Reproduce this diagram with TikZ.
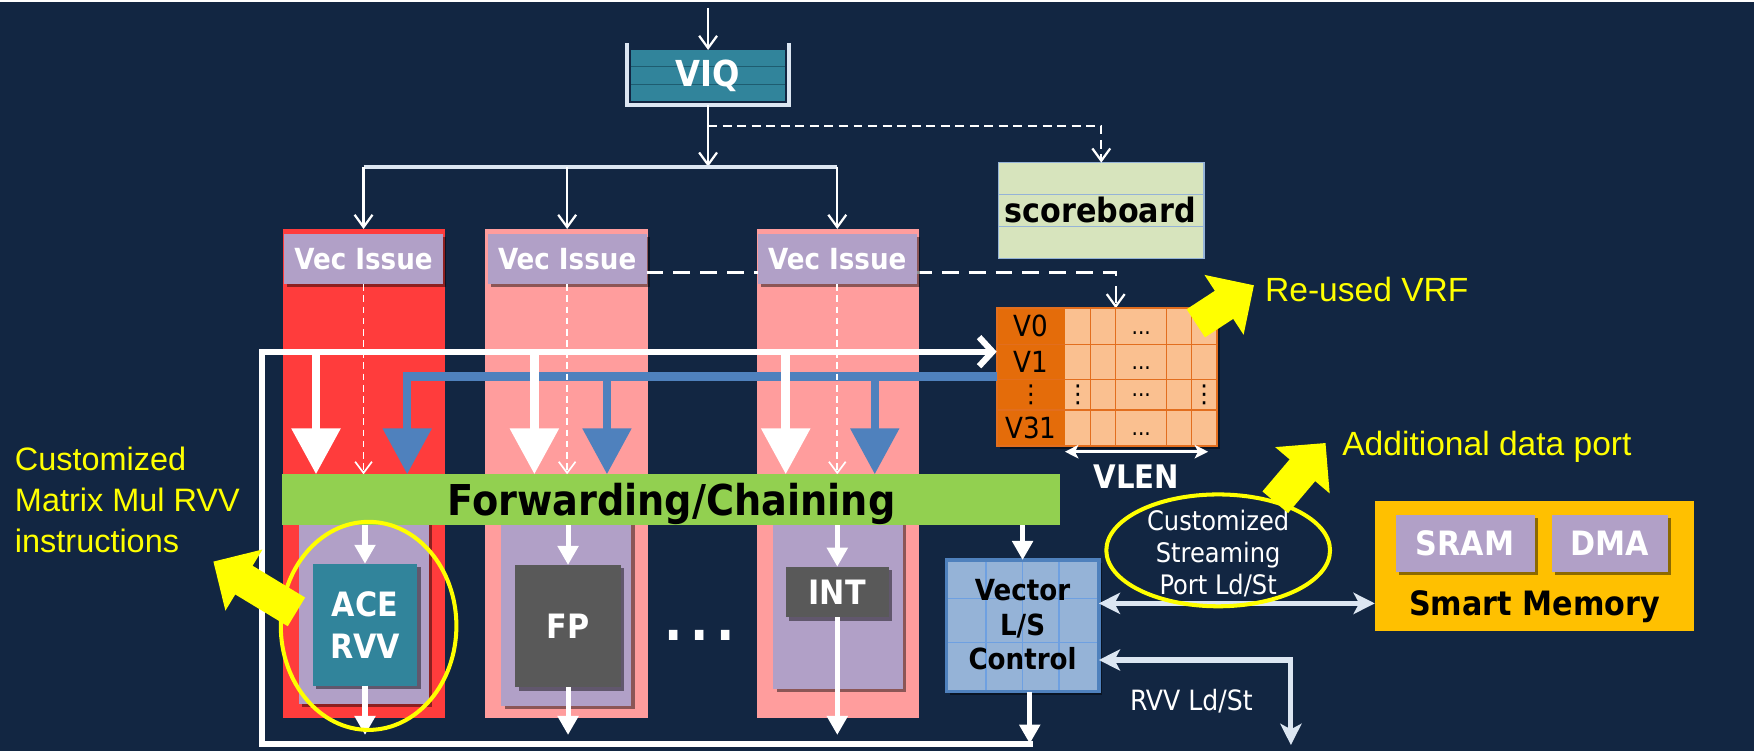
\documentclass[tikz,border=0pt]{standalone}
\usepackage{fontspec}
\setmainfont{Liberation Sans}
\newfontfamily\tah{DejaVu Sans Condensed}
\newfontfamily\dvs{DejaVu Sans}
\usetikzlibrary{arrows.meta,shadows,shapes.geometric}

\definecolor{bgnavy}{RGB}{18,38,66}
\definecolor{redcol}{RGB}{255,60,60}
\definecolor{pinkcol}{RGB}{255,157,157}
\definecolor{lilac}{RGB}{177,160,199}
\definecolor{viqteal}{RGB}{49,132,155}
\definecolor{viqstripe}{RGB}{30,92,112}
\definecolor{unitgray}{RGB}{89,89,89}
\definecolor{fwdgreen}{RGB}{146,208,80}
\definecolor{sbgreen}{RGB}{215,228,189}
\definecolor{sbline}{RGB}{149,179,215}
\definecolor{vrfdark}{RGB}{228,108,10}
\definecolor{vrflight}{RGB}{250,192,144}
\definecolor{vrfline}{RGB}{226,110,30}
\definecolor{lsfill}{RGB}{149,179,215}
\definecolor{lsborder}{RGB}{79,129,189}
\definecolor{lsgrid}{RGB}{110,160,225}
\definecolor{smgold}{RGB}{255,192,0}
\definecolor{arrowblue}{RGB}{79,129,189}
\definecolor{paleblue}{RGB}{220,230,242}
\definecolor{hiyellow}{RGB}{255,255,0}

\begin{document}
\begin{tikzpicture}[x=1pt,y=-1pt,
  every node/.style={inner sep=0pt,outer sep=0pt},
  boxshadow/.style={drop shadow={shadow xshift=3pt,shadow yshift=-3pt,opacity=0.45,fill=black}},
  colred/.style={fill=redcol,minimum width=145pt,minimum height=437.3pt},
  colpink/.style={fill=pinkcol,minimum width=145pt,minimum height=437.3pt},
  issuebox/.style={fill=lilac,boxshadow,minimum width=142pt,minimum height=45pt,
    text=white,font=\tah\bfseries\fontsize{26pt}{30pt}\selectfont},
  lanebox/.style={fill=lilac,boxshadow,minimum width=116pt},
  unitbox/.style={boxshadow,text=white,align=center,
    font=\tah\bfseries\fontsize{30pt}{37.6pt}\selectfont},
  membox/.style={fill=lilac,boxshadow,minimum width=124.2pt,minimum height=50.6pt,
    text=white,font=\tah\bfseries\fontsize{30pt}{34pt}\selectfont},
  boldwhite/.style={text=white,font=\tah\bfseries\fontsize{#1}{#1}\selectfont},
  boldblack/.style={text=black,font=\tah\bfseries\fontsize{#1}{#1}\selectfont},
  regname/.style={text=black,font=\tah\fontsize{26pt}{26pt}\selectfont},
  cellstext/.style={text=black,font=\tah\fontsize{20pt}{20pt}\selectfont},
  thinarrow/.style={draw=white,line width=2pt,-{Straight Barb[length=11pt,width=16pt]}},
  dashfeed/.style={thinarrow,dash pattern=on 8pt off 5pt},
  dashlong/.style={thinarrow,dash pattern=on 15pt off 9pt},
  dashlane/.style={draw=white,line width=1.5pt,dash pattern=on 6pt off 4pt,
    -{Straight Barb[length=10pt,width=15pt]}},
  barline/.style={draw=paleblue,line width=3.5pt},
  tankwall/.style={draw=paleblue,line width=3.5pt},
  bigdown/.style={draw=white,line width=8pt,-{Triangle[length=41pt,width=42pt]}},
  bluedown/.style={draw=arrowblue,line width=7.5pt,-{Triangle[length=41pt,width=42pt]}},
  smalldown/.style={draw=white,line width=4.5pt,-{Triangle[length=17pt,width=18pt]}},
  loopline/.style={draw=white,line width=5.5pt,-{Straight Barb[length=12pt,width=26pt]}},
  palebi/.style={draw=paleblue,line width=4.5pt,
    {Stealth[length=19pt,width=19pt,inset=5pt]}-{Stealth[length=19pt,width=19pt,inset=5pt]}},
  vlenarrow/.style={draw=white,line width=2.2pt,
    {Stealth[length=12pt,width=12pt,inset=3pt]}-{Stealth[length=12pt,width=12pt,inset=3pt]}},
  ring/.style={draw=hiyellow,line width=3.6pt,ellipse},
  yellowpointer/.style={draw=hiyellow,line width=30pt,-{Triangle[length=32pt,width=62pt]}},
  hinttext/.style={text=hiyellow,font=\fontsize{30pt}{36pt}\selectfont},
]
% backdrop
\fill[bgnavy] (0,0) rectangle (1568,671);
\useasboundingbox (0,0) rectangle (1568,671);
\fill[white] (0,0) rectangle (1568,1.6);

% execution lanes
\node[colred]  (col1) at (325.5,423.35) {};
\node[colpink] (col2) at (506.5,423.35) {};
\node[colpink] (col3) at (749,423.35) {};
\node[lanebox,minimum height=179.4pt] (lane1) at (325.4,539.7) {};
\node[lanebox,minimum height=181pt]   (lane2) at (506.3,540.5) {};
\node[lanebox,minimum height=166pt]   (lane3) at (749.2,533) {};

% issue stages
\node[issuebox] (issue1) at (325,231.5) {Vec Issue};
\node[issuebox] (issue2) at (507,231.5) {Vec Issue};
\coordinate (vrftap) at (997.4,275.6);
\draw[dashlong] ([yshift=-12pt]issue2.east) -| (vrftap);
\node[issuebox] (issue3) at (748.5,231.5) {Vec Issue};

% instruction queue
\node[fill=viqteal,minimum width=137.4pt,minimum height=45.3pt] (viq) at (633,67.35) {};
\draw[viqstripe,line width=1.4pt] ([yshift=-14.9pt]viq.north west) -- ([yshift=-14.9pt]viq.north east);
\draw[viqstripe,line width=1.4pt] ([yshift=-30.7pt]viq.north west) -- ([yshift=-30.7pt]viq.north east);
\draw[tankwall] ([xshift=-4pt,yshift=6pt]viq.north west) -- ([xshift=-4pt,yshift=-4pt]viq.south west)
  -- ([xshift=4pt,yshift=-4pt]viq.south east) -- ([xshift=4pt,yshift=6pt]viq.north east);
\node[boldwhite=32pt] (viqlabel) at (633,68) {VIQ};
\coordinate (feed) at (633,7);
\draw[thinarrow] (feed) -- (viq.north);

% dispatch to the issue stages
\coordinate (split) at (633,149);
\coordinate (tap) at (633,112.6);
\draw[thinarrow] ([yshift=-4pt]viq.south) -- (split);
\draw[barline] (issue1 |- split) -- (issue3 |- split);
\foreach \k in {1,2,3}
  \draw[thinarrow] (issue\k |- split) -- (issue\k |- col\k.north);

% scoreboard
\node[fill=sbgreen,draw=sbline,line width=1pt,minimum width=183.6pt,minimum height=85.6pt] (score) at (984.5,188.2) {};
\draw[sbline,line width=1pt] ([yshift=-28.3pt]score.north west) -- ([yshift=-28.3pt]score.north east);
\draw[sbline,line width=1pt] ([yshift=-57.2pt]score.north west) -- ([yshift=-57.2pt]score.north east);
\node[boldblack=30pt,anchor=base] (scorelabel) at (983.5,199) {scoreboard};
\draw[dashfeed] (tap) -| (score.north);

% vector register file
\node[fill=vrflight,boxshadow,minimum width=196.7pt,minimum height=122.8pt] (vrf) at (989.35,337) {};
\node[fill=vrfdark,minimum width=61pt,minimum height=122.8pt,anchor=west] (vrfnames) at (vrf.west) {};
\foreach \xx in {975,997.4,1043,1065.3}
  \draw[vrfline,line width=1.2pt] (\xx,275.6) -- (\xx,398.4);
\foreach \yy in {307.8,339.1,366.5}
  \draw[vrfline,line width=1.2pt] (891,\yy) -- (1087.7,\yy);
\draw[vrfline,line width=1.5pt] (vrf.north west) rectangle (vrf.south east);
\node[regname] (v0)  at (921.5,291.7) {V0};
\node[regname] (v1)  at (921.5,323.5) {V1};
\node[regname] (vmid) at (921.5,352.8) {\dvs\fontsize{22pt}{22pt}\selectfont ⋮};
\node[regname] (v31) at (921.5,382.5) {V31};
\node[regname] (cmidA) at (963.5,352.8) {\dvs\fontsize{22pt}{22pt}\selectfont ⋮};
\node[regname] (cmidB) at (1076.5,352.8) {\dvs\fontsize{22pt}{22pt}\selectfont ⋮};
\node[cellstext] (row0dots) at (1020.2,297.7) {...};
\node[cellstext] (row1dots) at (1020.2,329.5) {...};
\node[cellstext] (row2dots) at (1020.2,352.8) {...};
\node[cellstext] (row3dots) at (1020.2,388.5) {...};
\coordinate (vlenL) at (952,403.8);
\coordinate (vlenR) at (1080,403.8);
\draw[vlenarrow] (vlenL) -- (vlenR);
\node[boldwhite=29pt] (vlen) at (1016,426) {VLEN};

% write-back loop into the register file
\coordinate (loopend) at (923.5,664.8);
\coordinate (loopsw) at (233.9,664.8);
\coordinate (loopnw) at (233.9,314.4);
\draw[loopline] (loopend) -- (loopsw) -- (loopnw) -- (vrf.west |- loopnw);

% operand read ports
\coordinate (fwdtop) at (0,424);
\coordinate (bluein) at (891,336.5);
\coordinate (blue1) at (364,336.5);
\coordinate (blue2) at (542.6,336.5);
\coordinate (blue3) at (782,336.5);
\draw[bluedown] (bluein) -- (blue1) -- (blue1 |- fwdtop);
\draw[bluedown] (blue2) -- (blue2 |- fwdtop);
\draw[bluedown] (blue3) -- (blue3 |- fwdtop);
\coordinate (white1) at (282.5,314.4);
\coordinate (white2) at (477.7,314.4);
\coordinate (white3) at (702.4,314.4);
\foreach \k in {1,2,3}
  \draw[bigdown] (white\k) -- (white\k |- fwdtop);
\foreach \k in {1,2,3}
  \draw[dashlane] (issue\k.south) -- (issue\k.south |- fwdtop);

% forwarding network
\node[fill=fwdgreen,minimum width=695.5pt,minimum height=45.4pt] (fwd) at (600.25,446.7) {};
\node[boldblack=38pt,anchor=base] (fwdlabel) at (600.25,460.4) {Forwarding/Chaining};

% functional units
\node[unitbox,fill=viqteal,minimum width=93.4pt,minimum height=109pt] (ace) at (326.3,558.5) {ACE\\RVV};
\node[unitbox,fill=unitgray,minimum width=94.3pt,minimum height=109.5pt] (fp) at (507.8,559.8) {FP};
\node[unitbox,fill=unitgray,minimum width=92.2pt,minimum height=45.4pt] (int) at (748.5,529.3) {INT};
\node[boldwhite=48pt] (more) at (625.5,567.7) {.\hspace{7pt}.\hspace{7pt}.};
\coordinate (exit) at (0,657);
\foreach \u in {ace,fp,int} {
  \draw[smalldown] (\u.north |- fwd.south) -- (\u.north);
  \draw[smalldown] (\u.south) -- (\u.south |- exit);
}

% load/store control
\node[fill=lsfill,boxshadow,minimum width=136.3pt,minimum height=117.8pt] (ls) at (914.15,559.5) {};
\foreach \xx in {881.5,914,946.7}
  \draw[lsgrid,line width=1.2pt] (\xx,500.6) -- (\xx,618.4);
\foreach \yy in {535,574.5}
  \draw[lsgrid,line width=1.2pt] (846,\yy) -- (982.3,\yy);
\draw[lsborder,line width=3pt] (ls.north west) rectangle (ls.south east);
\node[boldblack=26pt,anchor=base] (lsl1) at (914.15,536.5) {Vector};
\node[boldblack=26pt,anchor=base] (lsl2) at (914.15,568.3) {L/S};
\node[boldblack=26pt,anchor=base] (lsl3) at (914.15,598.6) {Control};
\draw[smalldown] (ls.north |- fwd.south) -- (ls.north);
\draw[smalldown] ([xshift=6.4pt]ls.south) -- ([xshift=6.4pt]ls.south |- loopend);

% smart memory
\node[fill=smgold,minimum width=285.4pt,minimum height=116.2pt] (smart) at (1371.7,505.7) {};
\node[membox] (sram) at (1309.7,485.7) {SRAM};
\node[membox,minimum width=103.7pt] (dma) at (1439.2,485.7) {DMA};
\node[boldblack=30pt,anchor=base] (smartlabel) at (1371.7,549.8) {Smart Memory};
\draw[palebi] ([yshift=20.1pt]ls.east) -- ([yshift=20.1pt]ls.east -| smart.west);
\coordinate (rvvout) at (1154,666);
\draw[palebi] ([yshift=-30.5pt]ls.east) -| (rvvout);
\node[text=white,font=\tah\fontsize{25pt}{25pt}\selectfont] (rvvlabel) at (1065,627) {RVV Ld/St};

% highlights
\node[ring,minimum width=157pt,minimum height=186pt] (acering) at (329.5,559.5) {};
\node[ring,minimum width=200pt,minimum height=100pt] (portring) at (1089,492) {};
\node[text=white,align=center,font=\tah\fontsize{24pt}{28.5pt}\selectfont] (portlabel) at (1089,495) {Customized\\Streaming\\Port Ld/St};

\coordinate (vrfhint) at (1069,289);
\coordinate (vrfhinttip) at (1121,255);
\draw[yellowpointer] (vrfhint) -- (vrfhinttip);
\node[hinttext,anchor=base west] (vrfnote) at (1131,269.7) {Re-used VRF};

\coordinate (porthint) at (1140,449);
\coordinate (porthinttip) at (1185,396);
\draw[yellowpointer] (porthint) -- (porthinttip);
\node[hinttext,anchor=base west] (portnote) at (1200,406.8) {Additional data port};

\coordinate (acehint) at (265,547);
\coordinate (acehinttip) at (190.7,502);
\draw[yellowpointer] (acehint) -- (acehinttip);
\node[hinttext,anchor=north west,align=left,font=\fontsize{29pt}{36.5pt}\selectfont] (acenote) at (13.4,399.5) {Customized\\Matrix Mul RVV\\instructions};
\end{tikzpicture}
\end{document}
